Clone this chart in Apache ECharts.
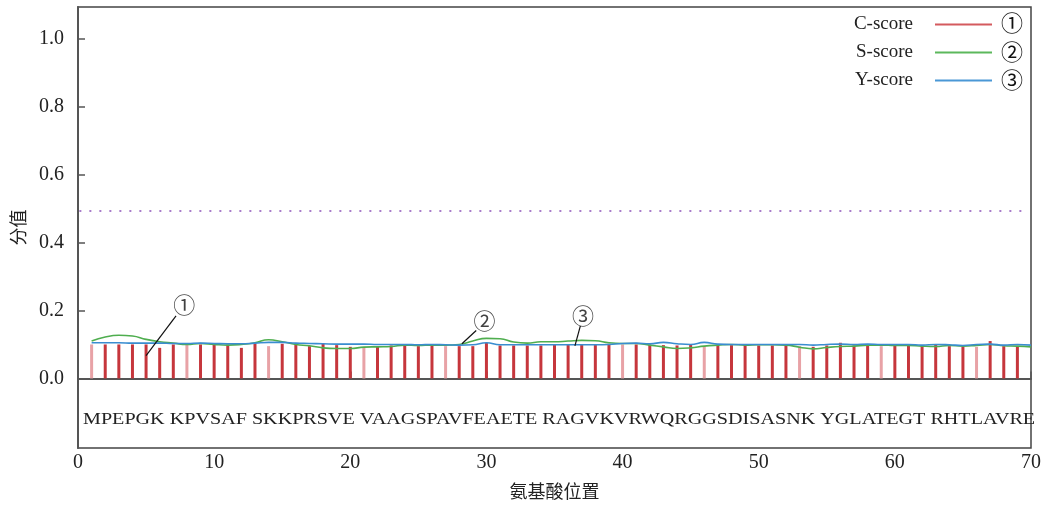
<!DOCTYPE html>
<html>
<head>
<meta charset="utf-8">
<script src="https://cdn.jsdelivr.net/npm/echarts@6/dist/echarts.min.js"></script>
<style>
    html, body { margin: 0; padding: 0; background: #fff; }
    #chart { width: 1055px; height: 505px; }
</style>
</head>
<body>
<div id="chart"></div>
<script>
// 氨基酸序列
var sequence = 'MPEPGK KPVSAF SKKPRSVE VAAGSPAVFEAETE RAGVKVRWQRGGSDISASNK YGLATEGT RHTLAVRE';

// 位置
var positions = [];
for (var i = 1; i <= 70; i++) positions.push(i);

// C-score (竖线), 位置 1-69
var cScore = [0.100, 0.100, 0.100, 0.100, 0.100, 0.090, 0.100, 0.100, 0.100, 0.100,
              0.100, 0.090, 0.102, 0.095, 0.102, 0.100, 0.095, 0.102, 0.098, 0.093,
              0.090, 0.093, 0.097, 0.097, 0.095, 0.097, 0.095, 0.095, 0.095, 0.105,
              0.097, 0.097, 0.097, 0.097, 0.100, 0.100, 0.100, 0.100, 0.102, 0.100,
              0.100, 0.100, 0.098, 0.097, 0.100, 0.095, 0.100, 0.098, 0.098, 0.097,
              0.097, 0.097, 0.095, 0.093, 0.097, 0.105, 0.097, 0.100, 0.095, 0.100,
              0.097, 0.097, 0.100, 0.095, 0.093, 0.093, 0.110, 0.095, 0.095];

// S-score, 位置 1-70
var sScore = [0.110, 0.122, 0.127, 0.125, 0.115, 0.108, 0.104, 0.100, 0.103, 0.100,
              0.098, 0.100, 0.105, 0.114, 0.108, 0.100, 0.096, 0.090, 0.088, 0.088,
              0.092, 0.093, 0.094, 0.098, 0.097, 0.098, 0.098, 0.100, 0.110, 0.118,
              0.117, 0.107, 0.104, 0.108, 0.108, 0.110, 0.112, 0.111, 0.105, 0.103,
              0.103, 0.098, 0.093, 0.088, 0.090, 0.095, 0.098, 0.100, 0.098, 0.099,
              0.099, 0.098, 0.092, 0.087, 0.091, 0.094, 0.095, 0.098, 0.098, 0.097,
              0.097, 0.095, 0.094, 0.097, 0.095, 0.097, 0.100, 0.096, 0.095, 0.093];

// Y-score, 位置 1-70
var yScore = [0.105, 0.105, 0.105, 0.104, 0.104, 0.104, 0.103, 0.103, 0.104, 0.103,
              0.102, 0.102, 0.104, 0.106, 0.106, 0.104, 0.103, 0.102, 0.101, 0.101,
              0.101, 0.100, 0.100, 0.100, 0.099, 0.100, 0.099, 0.098, 0.099, 0.105,
              0.099, 0.099, 0.099, 0.099, 0.099, 0.099, 0.099, 0.099, 0.100, 0.103,
              0.104, 0.102, 0.106, 0.102, 0.100, 0.106, 0.101, 0.100, 0.100, 0.100,
              0.100, 0.100, 0.100, 0.098, 0.100, 0.101, 0.100, 0.101, 0.100, 0.100,
              0.100, 0.098, 0.100, 0.099, 0.097, 0.100, 0.101, 0.098, 0.100, 0.098];

// 阈值 (虚线)
var cutoff = 0.494;

// 坐标轴刻度
var xTicks = [0, 10, 20, 30, 40, 50, 60, 70];
var yTicks = [0, 0.2, 0.4, 0.6, 0.8, 1.0];

// 图例
var seriesNames = ['C-score', 'S-score', 'Y-score'];
var seriesMarks = ['①', '②', '③'];

// 标注 ①②③: 文字位置 和 引线
var noteText = [[7.8, 0.216, '①'], [29.85, 0.17, '②'], [37.1, 0.184, '③']];
var noteLines = [
    [[7.2, 0.184], [5.0, 0.067]],
    [[29.25, 0.141], [28.2, 0.102]],
    [[36.9, 0.155], [36.5, 0.096]]
];

// 颜色偏浅的竖线 (原图扫描效果)
var fadedBars = [1, 8, 14, 21, 27, 40, 46, 53, 59, 66];

var serif = '"Liberation Serif", "Noto Sans CJK SC", serif';
var cjk = '"Noto Sans CJK SC", sans-serif';

var red = '#c6363c';
var green = '#4fae4f';
var blue = '#3a8dd0';

function pairs(xs, ys) {
    return ys.map(function (v, k) { return [xs[k], v]; });
}

var option = {
    animation: false,
    backgroundColor: '#fff',
    grid: {
        left: 78,
        right: 24,
        top: 7,
        bottom: 54,
        show: true,
        borderColor: '#444',
        borderWidth: 1.5
    },
    legend: {
        orient: 'vertical',
        align: 'right',
        right: 58,
        top: 10,
        itemWidth: 57,
        itemHeight: 2,
        itemGap: 9,
        icon: 'rect',
        data: [
            { name: seriesNames[0], itemStyle: { color: '#d45a5e' } },
            { name: seriesNames[1], itemStyle: { color: '#5cb85c' } },
            { name: seriesNames[2], itemStyle: { color: '#4a98d6' } }
        ],
        textStyle: {
            fontFamily: serif,
            fontSize: 19,
            color: '#222',
            padding: [0, 17, 0, 0]
        }
    },
    xAxis: {
        type: 'value',
        min: 0,
        max: 70,
        interval: 10,
        name: '氨基酸位置',
        nameLocation: 'middle',
        nameGap: 34,
        nameTextStyle: { fontFamily: cjk, fontSize: 18, color: '#222' },
        axisLine: { lineStyle: { color: '#555', width: 2 } },
        axisTick: { inside: true, length: 7, lineStyle: { color: '#555', width: 1.5 }, customValues: xTicks },
        axisLabel: { fontFamily: serif, fontSize: 20, color: '#222', margin: 5, customValues: xTicks },
        splitLine: { show: false }
    },
    yAxis: {
        type: 'value',
        min: -0.205,
        max: 1.094,
        name: '分值',
        nameLocation: 'middle',
        nameGap: 51,
        nameTextStyle: { fontFamily: cjk, fontSize: 18, color: '#222' },
        axisLine: { show: true, lineStyle: { color: '#555', width: 2 } },
        axisTick: { show: true, inside: true, length: 7, lineStyle: { color: '#555', width: 1.5 }, customValues: yTicks },
        axisLabel: {
            fontFamily: serif, fontSize: 20, color: '#222', margin: 14,
            customValues: yTicks,
            formatter: function (v) { return v.toFixed(1); }
        },
        splitLine: { show: false }
    },
    series: [
        // C-score 竖线
        {
            name: 'C-score',
            type: 'bar',
            barWidth: 3,
            data: pairs(positions, cScore),
            itemStyle: {
                color: function (p) {
                    return fadedBars.indexOf(p.value[0]) >= 0 ? '#e8a2a6' : red;
                }
            },
            markLine: {
                silent: true,
                symbol: 'none',
                label: { show: false },
                lineStyle: { color: '#a87cc9', type: [2, 8], width: 2 },
                data: [[{ coord: [0.1, cutoff] }, { coord: [69.3, cutoff] }]]
            },
            z: 2
        },
        {
            name: 'S-score',
            type: 'line',
            smooth: true,
            showSymbol: false,
            data: pairs(positions, sScore),
            lineStyle: { color: green, width: 1.6 },
            itemStyle: { color: green },
            z: 3
        },
        {
            name: 'Y-score',
            type: 'line',
            smooth: true,
            showSymbol: false,
            data: pairs(positions, yScore),
            lineStyle: { color: blue, width: 1.6 },
            itemStyle: { color: blue },
            z: 4
        },
        // 标注引线
        {
            type: 'lines',
            coordinateSystem: 'cartesian2d',
            silent: true,
            lineStyle: { color: '#111', width: 1.2, opacity: 1 },
            data: noteLines.map(function (c) { return { coords: c }; }),
            z: 5
        },
        // 标注文字
        {
            type: 'scatter',
            symbolSize: 0,
            silent: true,
            data: noteText,
            label: {
                show: true,
                position: 'inside',
                fontFamily: cjk,
                fontSize: 22,
                color: '#111',
                formatter: function (p) { return p.value[2]; }
            },
            z: 5
        }
    ],
    graphic: [
        {
            type: 'text',
            x: 83,
            y: 420,
            scaleX: 1.184,
            style: {
                text: sequence,
                font: '17px "Liberation Serif", serif',
                fill: '#222',
                align: 'left',
                verticalAlign: 'middle'
            }
        }
    ].concat(seriesMarks.map(function (m, k) {
        return {
            type: 'text',
            x: 1012,
            y: 23 + k * 28.5,
            style: {
                text: m,
                font: '22px "Noto Sans CJK SC", sans-serif',
                fill: '#111',
                align: 'center',
                verticalAlign: 'middle'
            }
        };
    }))
};

var chart = echarts.init(document.getElementById('chart'), null, { renderer: 'canvas' });
chart.setOption(option);
</script>
</body>
</html>
